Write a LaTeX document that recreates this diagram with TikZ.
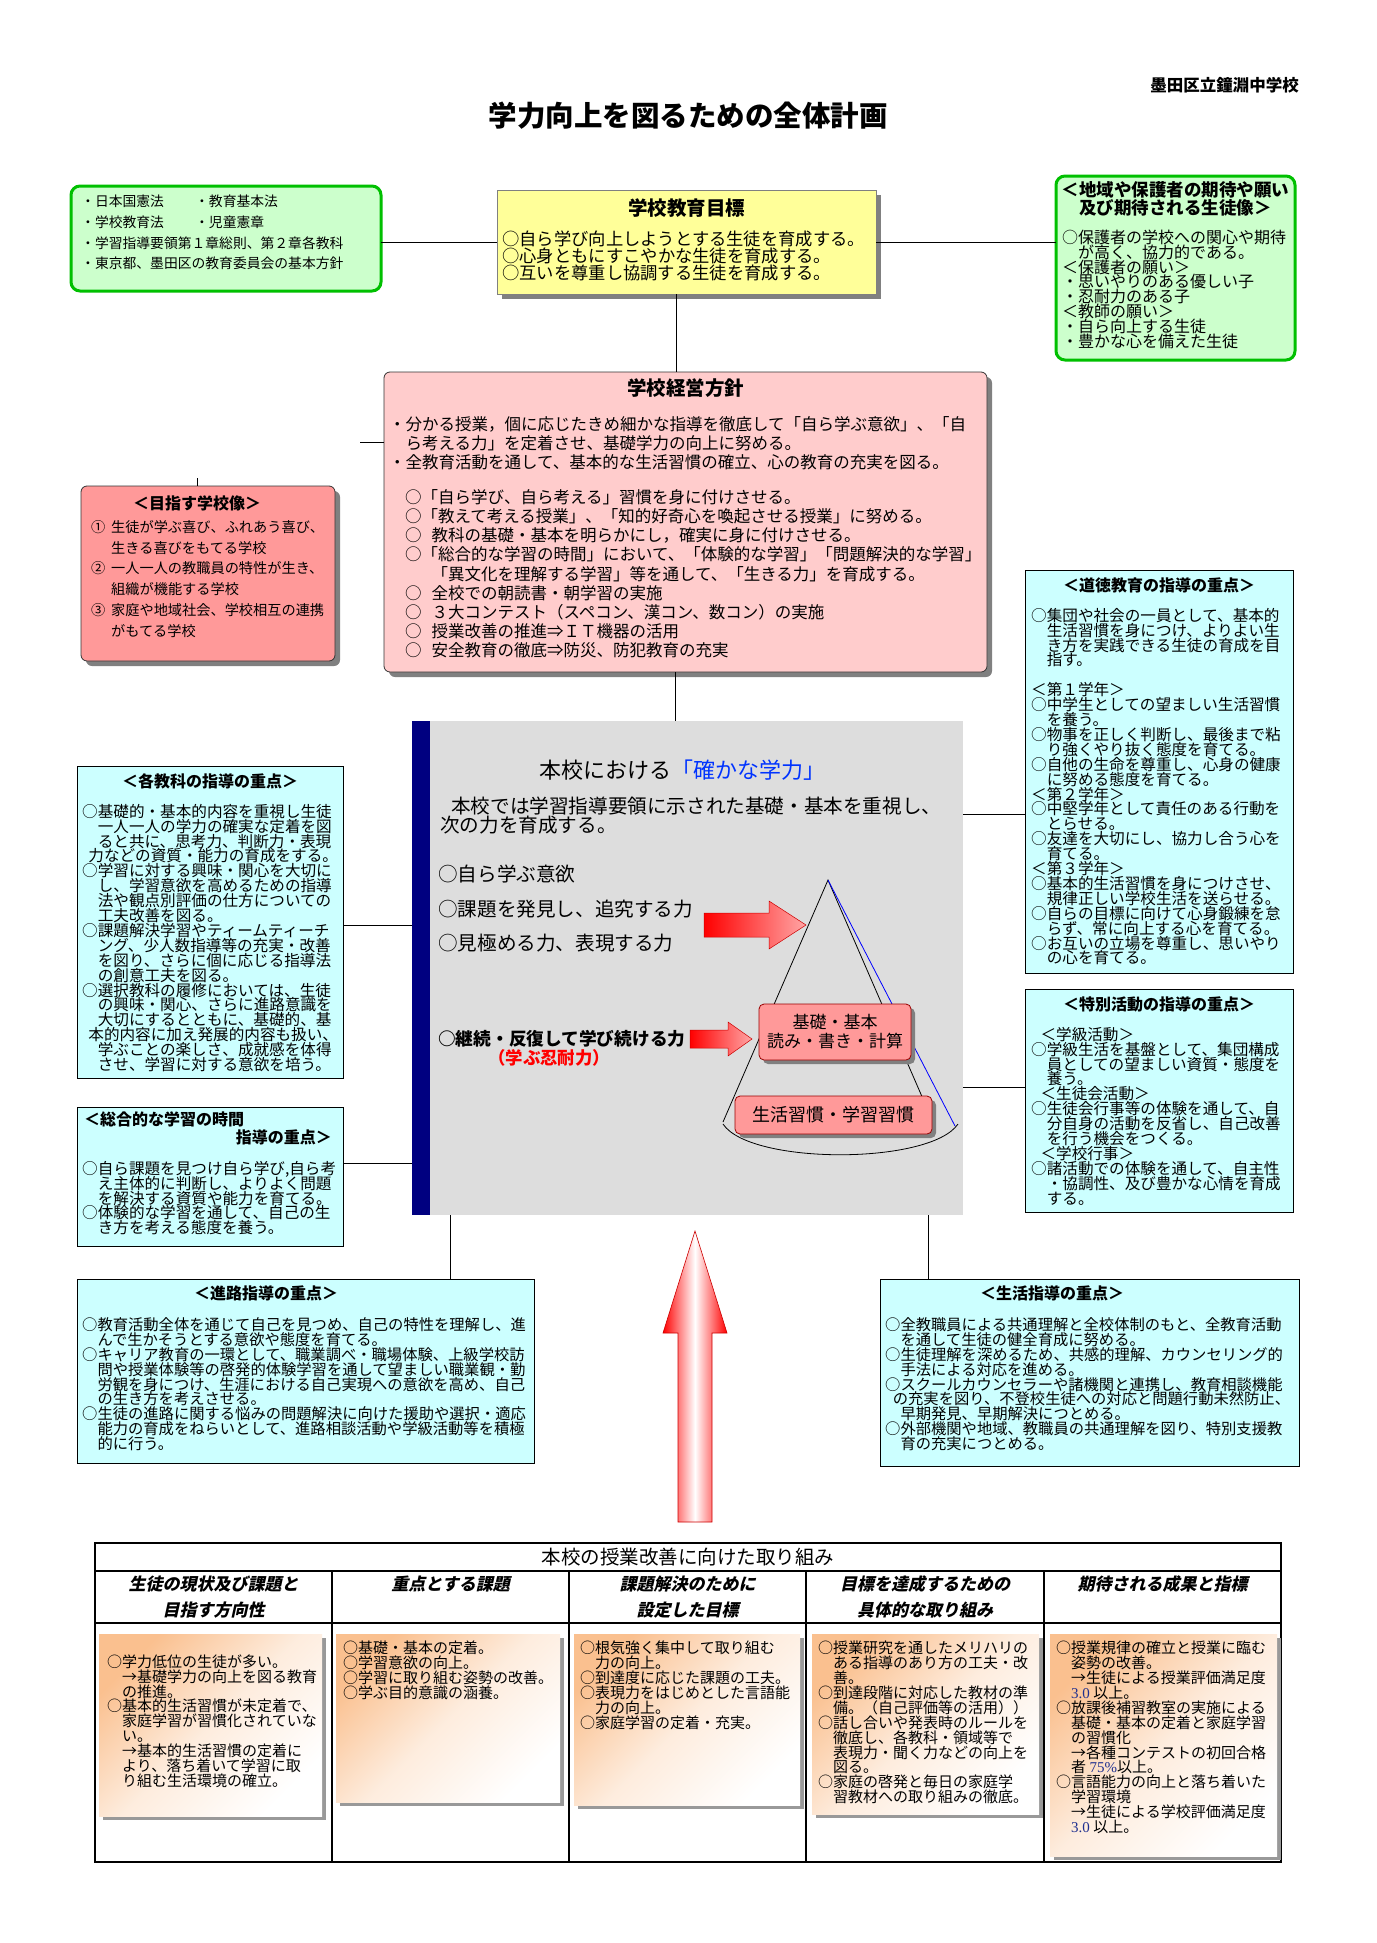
\documentclass[tikz,border=0pt]{standalone}
\usepackage{fontspec}
\setmainfont{Noto Sans CJK JP}
\newfontfamily\slfont{Noto Sans CJK JP}[FakeSlant=0.22]
\newfontfamily\numfont{Liberation Serif}
\usetikzlibrary{shadows}
\lineskiplimit=-100pt
\definecolor{lawgreen}{HTML}{00C000}
\definecolor{palegreen}{HTML}{CCFFCC}
\definecolor{paleyellow}{HTML}{FFFF99}
\definecolor{palepink}{HTML}{FFCCCC}
\definecolor{salmon}{HTML}{FF9999}
\definecolor{palecyan}{HTML}{CCFFFF}
\definecolor{coregray}{HTML}{DDDDDD}
\definecolor{navybar}{HTML}{000080}
\definecolor{peach}{HTML}{FAC08F}
\definecolor{shadowgray}{HTML}{808080}
\definecolor{keyblue}{HTML}{0033FF}
\definecolor{keyred}{HTML}{FF0000}
\definecolor{numblue}{HTML}{1F2F8F}
\newcommand{\ii}{\hspace*{1em}}
\newcommand{\ih}{\hspace*{0.4em}}
\newcommand{\topline}{\rule{0pt}{1em}}
\newcommand{\scorenum}[1]{{\numfont\color{numblue}#1}}
\tikzset{
  doctitle/.style={font=\bfseries\fontsize{28.5}{30}\selectfont,anchor=base,inner sep=0pt},
  school/.style={font=\bfseries\fontsize{16.5}{18}\selectfont,anchor=base east,inner sep=0pt},
  boxtitle/.style={font=\bfseries\fontsize{19.5}{21}\selectfont,anchor=base,inner sep=0pt},
  subtitle/.style={font=\bfseries\fontsize{16}{17.3}\selectfont,anchor=base,inner sep=0pt,align=center},
  body/.style={anchor=north west,align=left,inner sep=0pt},
  lawtext/.style={body,yshift=13.8pt,font=\fontsize{13.8}{20.7}\selectfont},
  goaltext/.style={body,yshift=17.3pt,font=\fontsize{17.3}{16.7}\selectfont},
  hopetext/.style={body,yshift=16pt,font=\fontsize{16}{14.9}\selectfont},
  policytext/.style={body,yshift=16.5pt,font=\fontsize{16.5}{19.2}\selectfont},
  imagetext/.style={body,yshift=14.2pt,font=\fontsize{14.2}{20.8}\selectfont},
  sidetext/.style={body,yshift=15.6pt,font=\fontsize{15.6}{14.9}\selectfont},
  widetext/.style={body,yshift=15.3pt,font=\fontsize{15.3}{14.95}\selectfont},
  coretext/.style={body,yshift=19.6pt,font=\fontsize{19.6}{18.6}\selectfont},
  celltext/.style={body,yshift=15pt,font=\fontsize{15}{14.9}\selectfont},
  colhead/.style={font=\slfont\bfseries\fontsize{17}{26}\selectfont,anchor=north,yshift=17pt,align=center,inner sep=0pt},
  panel/.style={anchor=north west,inner sep=0pt,outer sep=0pt},
  greenpanel/.style={panel,draw=lawgreen,line width=3pt,fill=palegreen,rounded corners=9pt},
  yellowpanel/.style={panel,draw=gray,line width=0.8pt,fill=paleyellow,drop shadow={shadow xshift=5pt,shadow yshift=-5pt,fill=shadowgray,opacity=1}},
  policypanel/.style={panel,draw=black!80,line width=0.8pt,fill=palepink,rounded corners=6pt,drop shadow={shadow xshift=5pt,shadow yshift=-5pt,fill=shadowgray,opacity=1}},
  imagepanel/.style={panel,draw=black!80,line width=0.8pt,fill=salmon,rounded corners=6pt,drop shadow={shadow xshift=5pt,shadow yshift=-5pt,fill=shadowgray,opacity=1}},
  cyanpanel/.style={panel,draw=black,line width=0.9pt,fill=palecyan},
  corepanel/.style={panel,fill=coregray},
  pyrbox/.style={draw=red!60!black,line width=0.8pt,fill=salmon,rounded corners=5pt,align=center,inner sep=0pt,drop shadow={shadow xshift=4pt,shadow yshift=-4pt,fill=shadowgray,opacity=1}},
  cellpanel/.style={panel,top color=peach,bottom color=white,middle color=peach!30,shading angle=45,drop shadow={shadow xshift=4pt,shadow yshift=-4pt,fill=shadowgray!80,opacity=1}},
  link/.style={draw=black,line width=0.9pt},
  grid/.style={draw=black,line width=2pt}
}
\begin{document}
\begin{tikzpicture}[x=1pt,y=-1pt]
\path[use as bounding box,fill=white] (0,0) rectangle (1376,1943);
% heading
\node[school] (school) at (1299,91) {墨田区立鐘淵中学校};
\node[doctitle] (title) at (688,126) {学力向上を図るための全体計画};
% top row
\node[greenpanel,minimum width=310pt,minimum height=105pt] (law) at (71,186) {};
\node[lawtext] (lawlist) at (81,206.5) {\topline\makebox[114pt][l]{・日本国憲法}・教育基本法\\\makebox[114pt][l]{・学校教育法}・児童憲章\\・学習指導要領第１章総則、第２章各教科\\・東京都、墨田区の教育委員会の基本方針};
\node[yellowpanel,minimum width=379pt,minimum height=104pt] (goal) at (497,190) {};
\node[boxtitle] (goaltitle) at (686.5,215.5) {学校教育目標};
\node[goaltext] (goallist) at (502,245.5) {\topline ○自ら学び向上しようとする生徒を育成する。\\○心身ともにすこやかな生徒を育成する。\\○互いを尊重し協調する生徒を育成する。};
\node[greenpanel,minimum width=239pt,minimum height=184pt] (hope) at (1056,176) {};
\node[subtitle,anchor=north,yshift=17.5pt,font=\bfseries\fontsize{17.5}{17.3}\selectfont] (hopetitle) at (1175.5,196.5) {\topline ＜地域や保護者の期待や願い\\及び期待される生徒像＞};
\node[hopetext] (hopelist) at (1062,243) {\topline ○保護者の学校への関心や期待\\\ii が高く、協力的である。\\＜保護者の願い＞\\・思いやりのある優しい子\\・忍耐力のある子\\＜教師の願い＞\\・自ら向上する生徒\\・豊かな心を備えた生徒};
\draw[link] (law.east |- goal.west) -- (goal.west);
\draw[link] (goal.east) -- (goal.east -| hope.west);
% school policy
\node[policypanel,minimum width=603pt,minimum height=300pt] (policy) at (384,372) {};
\node[boxtitle] (policytitle) at (685.5,395.5) {学校経営方針};
\node[policytext] (policyaim) at (389,430) {\topline ・分かる授業，個に応じたきめ細かな指導を徹底して「自ら学ぶ意欲」、「自\\\ii ら考える力」を定着させ、基礎学力の向上に努める。\\・全教育活動を通して、基本的な生活習慣の確立、心の教育の充実を図る。};
\node[policytext] (policylist) at (405,503) {\topline ○「自ら学び、自ら考える」習慣を身に付けさせる。\\
○「教えて考える授業」、「知的好奇心を喚起させる授業」に努める。\\
○\hspace{0.6em}教科の基礎・基本を明らかにし，確実に身に付けさせる。\\
○「総合的な学習の時間」において、「体験的な学習」「問題解決的な学習」\\
\hspace*{1.6em}「異文化を理解する学習」等を通して、「生きる力」を育成する。\\
○\hspace{0.6em}全校での朝読書・朝学習の実施\\
○\hspace{0.6em}３大コンテスト（スペコン、漢コン、数コン）の実施\\
○\hspace{0.6em}授業改善の推進⇒ＩＴ機器の活用\\
○\hspace{0.6em}安全教育の徹底⇒防災、防犯教育の充実};
\draw[link] ([xshift=-10pt]goal.south) -- ([xshift=-10pt]goal.south |- policy.north);
% school image
\node[imagepanel,minimum width=254pt,minimum height=175pt] (image) at (81,486) {};
\node[subtitle] (imagetitle) at (197,509) {＜目指す学校像＞};
\node[imagetext] (imagelist) at (91,532) {\topline\makebox[20pt][l]{①}生徒が学ぶ喜び、ふれあう喜び、\\\hspace*{20pt}生きる喜びをもてる学校\\\makebox[20pt][l]{②}一人一人の教職員の特性が生き、\\\hspace*{20pt}組織が機能する学校\\\makebox[20pt][l]{③}家庭や地域社会、学校相互の連携\\\hspace*{20pt}がもてる学校};
\coordinate (aimtick) at (360,442);
\draw[link] (aimtick) -- (policy.west |- aimtick);
\coordinate (imagetick) at (197,478);
\draw[link] (imagetick) -- (image.north -| imagetick);
% core
\node[corepanel,minimum width=551pt,minimum height=494pt] (core) at (412,721) {};
\fill[navybar] (core.north west) rectangle ([xshift=18pt]core.south west);
\draw[link] ([xshift=-10pt]policy.south) -- ([xshift=-10pt]policy.south |- core.north);
\node[anchor=base,inner sep=0pt,font=\fontsize{22}{24}\selectfont] (coretitle) at (682,778.5) {本校における\textcolor{keyblue}{「確かな学力」}};
\node[coretext] (intro) at (440,813.5) {\topline\hspace*{11pt}本校では学習指導要領に示された基礎・基本を重視し、\\次の力を育成する。};
\node[coretext] (will) at (438,881.5) {\topline ○自ら学ぶ意欲};
\node[coretext] (seek) at (438,916.5) {\topline ○課題を発見し、追究する力};
\node[coretext] (judge) at (438,950.5) {\topline ○見極める力、表現する力};
\node[body,yshift=17.7pt,font=\bfseries\fontsize{17.7}{19}\selectfont] (persist) at (438,1045.5) {\topline ○継続・反復して学び続ける力};
\node[body,yshift=17.4pt,font=\bfseries\fontsize{17.4}{19}\selectfont,text=keyred] (patience) at (488,1064) {\topline（学ぶ忍耐力）};
% pyramid
\coordinate (apex) at (828,880);
\draw[line width=0.8pt] (723,1122) -- (apex) -- (933,1122);
\draw[blue,line width=0.8pt] (apex) -- (955,1126);
\draw[line width=0.8pt] (723,1124) .. controls (750,1165) and (930,1165) .. (958,1124);
\node[pyrbox,minimum width=152pt,minimum height=56pt,font=\fontsize{17}{19}\selectfont] (basic) at (835,1032) {基礎・基本\\読み・書き・計算};
\node[pyrbox,minimum width=197pt,minimum height=38pt,font=\fontsize{18}{20}\selectfont] (habit) at (833.5,1115) {生活習慣・学習習慣};
\shade[left color=red,right color=red!35,draw=red!80!black,line width=0.5pt] (704,913) -- (769,913) -- (769,901) -- (806,925) -- (769,949) -- (769,937) -- (704,937) -- cycle;
\shade[left color=red,right color=red!35,draw=red!80!black,line width=0.5pt] (690,1030) -- (728,1030) -- (728,1022) -- (752,1039) -- (728,1056) -- (728,1048) -- (690,1048) -- cycle;
% side boxes
\node[cyanpanel,minimum width=268pt,minimum height=403pt] (moral) at (1025,570) {};
\node[subtitle] (moraltitle) at (1159,591) {＜道徳教育の指導の重点＞};
\node[sidetext] (morallist) at (1031,621) {\topline ○集団や社会の一員として、基本的\\
\ii 生活習慣を身につけ、よりよい生\\
\ii き方を実践できる生徒の育成を目\\
\ii 指す。\\[14.9pt]%
＜第１学年＞\\
○中学生としての望ましい生活習慣\\
\ii を養う。\\
○物事を正しく判断し、最後まで粘\\
\ii り強くやり抜く態度を育てる。\\
○自他の生命を尊重し、心身の健康\\
\ii に努める態度を育てる。\\
＜第２学年＞\\
○中堅学年として責任のある行動を\\
\ii とらせる。\\
○友達を大切にし、協力し合う心を\\
\ii 育てる。\\
＜第３学年＞\\
○基本的生活習慣を身につけさせ、\\
\ii 規律正しい学校生活を送らせる。\\
○自らの目標に向けて心身鍛練を怠\\
\ii らず、常に向上する心を育てる。\\
○お互いの立場を尊重し、思いやり\\
\ii の心を育てる。};
\node[cyanpanel,minimum width=268pt,minimum height=223pt] (special) at (1025,989) {};
\node[subtitle] (specialtitle) at (1159,1010) {＜特別活動の指導の重点＞};
\node[sidetext] (speciallist) at (1031,1040) {\topline\hspace*{0.6em}＜学級活動＞\\
○学級生活を基盤として、集団構成\\
\ii 員としての望ましい資質・態度を\\
\ii 養う。\\
\hspace*{0.6em}＜生徒会活動＞\\
○生徒会行事等の体験を通して、自\\
\ii 分自身の活動を反省し、自己改善\\
\ii を行う機会をつくる。\\
\hspace*{0.6em}＜学校行事＞\\
○諸活動での体験を通して、自主性\\
\ii ・協調性、及び豊かな心情を育成\\
\ii する。};
\node[cyanpanel,minimum width=266pt,minimum height=312pt] (subject) at (77,766) {};
\node[subtitle] (subjecttitle) at (210,787) {＜各教科の指導の重点＞};
\node[sidetext] (subjectlist) at (82,817) {\topline ○基礎的・基本的内容を重視し生徒\\
\ii 一人一人の学力の確実な定着を図\\
\ii ると共に、思考力、判断力・表現\\
\ih 力などの資質・能力の育成をする。\\
○学習に対する興味・関心を大切に\\
\ii し、学習意欲を高めるための指導\\
\ii 法や観点別評価の仕方についての\\
\ii 工夫改善を図る。\\
○課題解決学習やティームティーチ\\
\ii ング、少人数指導等の充実・改善\\
\ii を図り、さらに個に応じる指導法\\
\ii の創意工夫を図る。\\
○選択教科の履修においては、生徒\\
\ii の興味・関心、さらに進路意識を\\
\ii 大切にするとともに、基礎的、基\\
\ih 本的内容に加え発展的内容も扱い、\\
\ii 学ぶことの楽しさ、成就感を体得\\
\ii させ、学習に対する意欲を培う。};
\node[cyanpanel,minimum width=266pt,minimum height=139pt] (study) at (77,1107) {};
\node[subtitle,anchor=base west] (studytitle) at (84,1125) {＜総合的な学習の時間};
\node[subtitle,anchor=base east] (studytitle2) at (332,1143) {指導の重点＞};
\node[sidetext] (studylist) at (82,1174) {\topline ○自ら課題を見つけ自ら学び,自ら考\\
\ii え主体的に判断し、よりよく問題\\
\ii を解決する資質や能力を育てる。\\
○体験的な学習を通して、自己の生\\
\ii き方を考える態度を養う。};
\draw[link] (core.west |- 0,925) -- (subject.east |- 0,925);
\draw[link] (core.west |- 0,1163) -- (study.east |- 0,1163);
\draw[link] (core.east |- 0,814) -- (moral.west |- 0,814);
\draw[link] (core.east |- 0,1087) -- (special.west |- 0,1087);
% guidance
\node[cyanpanel,minimum width=457pt,minimum height=184pt] (career) at (77,1279) {};
\node[subtitle] (careertitle) at (266,1299) {＜進路指導の重点＞};
\node[widetext] (careerlist) at (82,1330) {\topline ○教育活動全体を通じて自己を見つめ、自己の特性を理解し、進\\
\ii んで生かそうとする意欲や態度を育てる。\\
○キャリア教育の一環として、職業調べ・職場体験、上級学校訪\\
\ii 問や授業体験等の啓発的体験学習を通して望ましい職業観・勤\\
\ii 労観を身につけ、生涯における自己実現への意欲を高め、自己\\
\ii の生き方を考えさせる。\\
○生徒の進路に関する悩みの問題解決に向けた援助や選択・適応\\
\ii 能力の育成をねらいとして、進路相談活動や学級活動等を積極\\
\ii 的に行う。};
\node[cyanpanel,minimum width=419pt,minimum height=187pt] (life) at (880,1279) {};
\node[subtitle] (lifetitle) at (1052,1299) {＜生活指導の重点＞};
\node[widetext] (lifelist) at (885,1330) {\topline ○全教職員による共通理解と全校体制のもと、全教育活動\\
\ii を通して生徒の健全育成に努める。\\
○生徒理解を深めるため、共感的理解、カウンセリング的\\
\ii 手法による対応を進める。\\
○スクールカウンセラーや諸機関と連携し、教育相談機能\\
\hspace*{0.5em}の充実を図り、不登校生徒への対応と問題行動未然防止、\\
\ii 早期発見、早期解決につとめる。\\
○外部機関や地域、教職員の共通理解を図り、特別支援教\\
\ii 育の充実につとめる。};
\draw[link] (core.south -| 450,0) -- (career.north -| 450,0);
\draw[link] (core.south -| 928,0) -- (life.north -| 928,0);
% big arrow
\shade[left color=red,right color=red,middle color=white,draw=red!80!black,line width=0.6pt] (695,1231) -- (727,1333) -- (712,1333) -- (712,1522) -- (678,1522) -- (678,1333) -- (663,1333) -- cycle;
% plan table
\draw[grid] (95,1543) rectangle (1281,1862);
\draw[grid] (95,1571) -- (1281,1571);
\draw[grid] (95,1623) -- (1281,1623);
\foreach \x in {332,569,806,1044} \draw[grid] (\x,1571) -- (\x,1862);
\node[anchor=base,inner sep=0pt,font=\fontsize{19.5}{21}\selectfont] (plantitle) at (688,1564) {本校の授業改善に向けた取り組み};
\node[colhead] (head1) at (213.5,1590.5) {\topline 生徒の現状及び課題と\\目指す方向性};
\node[colhead] (head2) at (450.5,1590.5) {\topline 重点とする課題};
\node[colhead] (head3) at (687.5,1590.5) {\topline 課題解決のために\\設定した目標};
\node[colhead] (head4) at (925,1590.5) {\topline 目標を達成するための\\具体的な取り組み};
\node[colhead] (head5) at (1162.5,1590.5) {\topline 期待される成果と指標};
\node[cellpanel,minimum width=223pt,minimum height=182pt] (cell1) at (99,1634) {};
\node[cellpanel,minimum width=224pt,minimum height=168pt] (cell2) at (336,1634) {};
\node[cellpanel,minimum width=226pt,minimum height=171pt] (cell3) at (574,1634) {};
\node[cellpanel,minimum width=227pt,minimum height=180pt] (cell4) at (812,1634) {};
\node[cellpanel,minimum width=227pt,minimum height=222pt] (cell5) at (1050,1634) {};
\node[celltext] (state) at (107,1667) {\topline ○学力低位の生徒が多い。\\
\ii →基礎学力の向上を図る教育\\
\ii の推進。\\
○基本的生活習慣が未定着で、\\
\ii 家庭学習が習慣化されていな\\
\ii い。\\
\ii →基本的生活習慣の定着に\\
\ii より、落ち着いて学習に取\\
\ii り組む生活環境の確立。};
\node[celltext] (focus) at (343,1653.5) {\topline ○基礎・基本の定着。\\
○学習意欲の向上。\\
○学習に取り組む姿勢の改善。\\
○学ぶ目的意識の涵養。};
\node[celltext] (target) at (580,1653.5) {\topline ○根気強く集中して取り組む\\
\ii 力の向上。\\
○到達度に応じた課題の工夫。\\
○表現力をはじめとした言語能\\
\ii 力の向上。\\
○家庭学習の定着・充実。};
\node[celltext] (action) at (818,1653.5) {\topline ○授業研究を通したメリハリの\\
\ii ある指導のあり方の工夫・改\\
\ii 善。\\
○到達段階に対応した教材の準\\
\ii 備。（自己評価等の活用））\\
○話し合いや発表時のルールを\\
\ii 徹底し、各教科・領域等で\\
\ii 表現力・聞く力などの向上を\\
\ii 図る。\\
○家庭の啓発と毎日の家庭学\\
\ii 習教材への取り組みの徹底。};
\node[celltext] (result) at (1056,1653.5) {\topline ○授業規律の確立と授業に臨む\\
\ii 姿勢の改善。\\
\ii →生徒による授業評価満足度\\
\ii \scorenum{3.0} 以上。\\
○放課後補習教室の実施による\\
\ii 基礎・基本の定着と家庭学習\\
\ii の習慣化\\
\ii →各種コンテストの初回合格\\
\ii 者 \scorenum{75\%}以上。\\
○言語能力の向上と落ち着いた\\
\ii 学習環境\\
\ii →生徒による学校評価満足度\\
\ii \scorenum{3.0} 以上。};
\end{tikzpicture}
\end{document}
